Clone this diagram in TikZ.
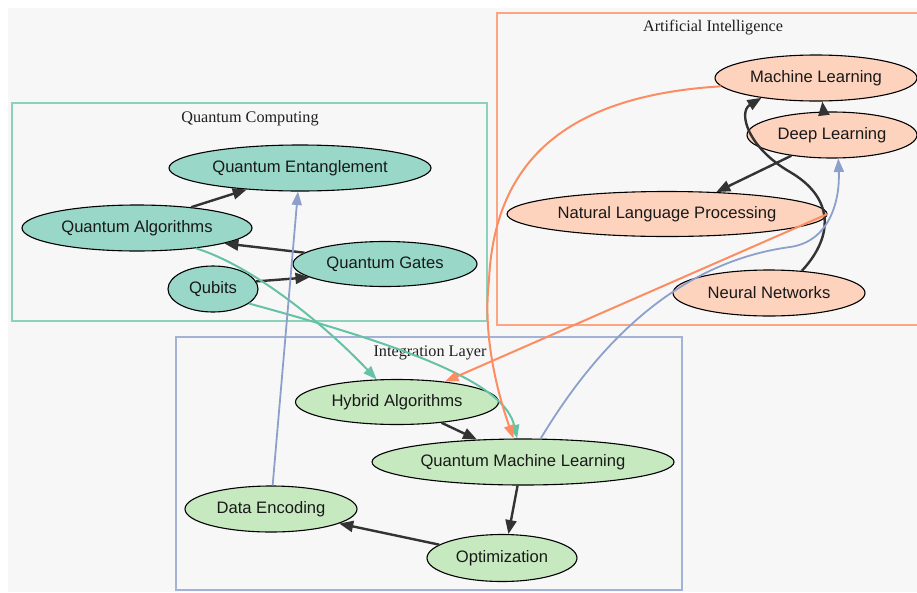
\documentclass[tikz,border=0pt]{standalone}
\usepackage{fontspec}
\setmainfont{Liberation Serif}
\newfontfamily\nodefont{Liberation Sans}
\usetikzlibrary{arrows.meta,shapes.geometric}
\definecolor{bggray}{HTML}{F7F7F7}
\definecolor{qcfill}{HTML}{99D8C9}
\definecolor{aifill}{HTML}{FED3BD}
\definecolor{ilfill}{HTML}{C7E9C0}
\definecolor{qcline}{HTML}{66C2A5}
\definecolor{ailine}{HTML}{FC8D62}
\definecolor{illine}{HTML}{8DA0CB}
\definecolor{darkline}{HTML}{333333}

\begin{document}
\begin{tikzpicture}[x=1pt,y=-1pt,
    concept/.style={ellipse,draw=black,line width=1.1pt,inner sep=0pt,
        text=black!90,font=\nodefont\fontsize{16.6}{19}\selectfont},
    qcnode/.style={concept,fill=qcfill},
    ainode/.style={concept,fill=aifill},
    ilnode/.style={concept,fill=ilfill},
    clusterlabel/.style={text=black!88,font=\fontsize{16.2}{19}\selectfont},
    flow/.style={draw=darkline,line width=2.4pt,-{Triangle[length=14pt,width=11pt]}},
    qcflow/.style={draw=qcline,line width=2pt,-{Triangle[length=13.5pt,width=10pt]}},
    aiflow/.style={draw=ailine,line width=2pt,-{Triangle[length=13.5pt,width=10pt]}},
    ilflow/.style={draw=illine,line width=1.8pt,-{Triangle[length=13.5pt,width=10pt]}}]
    \useasboundingbox (0,0) rectangle (917,592);
    \fill[white] (0,0) rectangle (917,592);
    \fill[bggray] (8,8) rectangle (917,592);

    % clusters
    \draw[qcline!75,line width=1.3pt] (12,103) rectangle (487,321);
    \draw[ailine!80,line width=1.3pt] (497,13) rectangle (925,325);
    \draw[illine!80,line width=1.3pt] (176,337) rectangle (682,590);
    \node[clusterlabel] (qclabel) at (250,119) {Quantum Computing};
    \node[clusterlabel] (ailabel) at (713,28) {Artificial Intelligence};
    \node[clusterlabel] (illabel) at (430,353) {Integration Layer};

    % quantum computing
    \node[qcnode,minimum width=262pt,minimum height=46pt] (qent) at (300,168) {Quantum Entanglement};
    \node[qcnode,minimum width=230pt,minimum height=46pt] (qalg) at (137,228) {Quantum Algorithms};
    \node[qcnode,minimum width=184pt,minimum height=45pt] (qgates) at (385,264) {Quantum Gates};
    \node[qcnode,minimum width=90pt,minimum height=46pt] (qubits) at (213,289) {Qubits};

    % artificial intelligence
    \node[ainode,minimum width=202pt,minimum height=46pt] (ml) at (816,78) {Machine Learning};
    \node[ainode,minimum width=170pt,minimum height=46pt] (dl) at (832,135) {Deep Learning};
    \node[ainode,minimum width=320pt,minimum height=45pt] (nlp) at (667,214) {Natural Language Processing};
    \node[ainode,minimum width=192pt,minimum height=46pt] (nn) at (769,293) {Neural Networks};

    % integration layer
    \node[ilnode,minimum width=203pt,minimum height=45pt] (hybrid) at (397,402) {Hybrid Algorithms};
    \node[ilnode,minimum width=302pt,minimum height=46pt] (qml) at (523,462) {Quantum Machine Learning};
    \node[ilnode,minimum width=172pt,minimum height=46pt] (dataenc) at (271,509) {Data Encoding};
    \node[ilnode,minimum width=150pt,minimum height=47pt] (optim) at (502,558) {Optimization};

    % edges inside clusters
    \draw[flow] (qalg.21) -- (qent.202);
    \draw[flow] (qgates.172) -- (qalg.350);
    \draw[flow] (qubits.10) -- (qgates.190);
    \draw[flow] (dl.110) -- (ml.285);
    \draw[flow] (dl.207) -- (nlp.24);
    \draw[flow] (nn.34) .. controls (835,235) and (833,197) .. (790,172)
        .. controls (747,147) and (738,112) .. (ml.200);
    \draw[flow] (hybrid.335) -- (qml.154);
    \draw[flow] (qml.257) -- (optim.75);
    \draw[flow] (optim.168) -- (dataenc.348);

    % edges between clusters
    \draw[qcflow] (qalg.341) .. controls (250,265) and (320,320) .. (hybrid.132);
    \draw[qcflow] (qubits.338) .. controls (420,350) and (505,385) .. (qml.104);
    \draw[ilflow] (dataenc.86) -- (qent.265);
    \draw[ilflow] (qml.53) .. controls (600,340) and (680,262) .. (790,247)
        .. controls (830,241.5) and (840,200) .. (dl.285);
    \draw[aiflow] (ml.185) .. controls (580,95) and (495,150) .. (489,280)
        .. controls (482,340) and (500,400) .. (qml.112);
    \draw[aiflow] (nlp.0) -- (hybrid.23);
\end{tikzpicture}
\end{document}
